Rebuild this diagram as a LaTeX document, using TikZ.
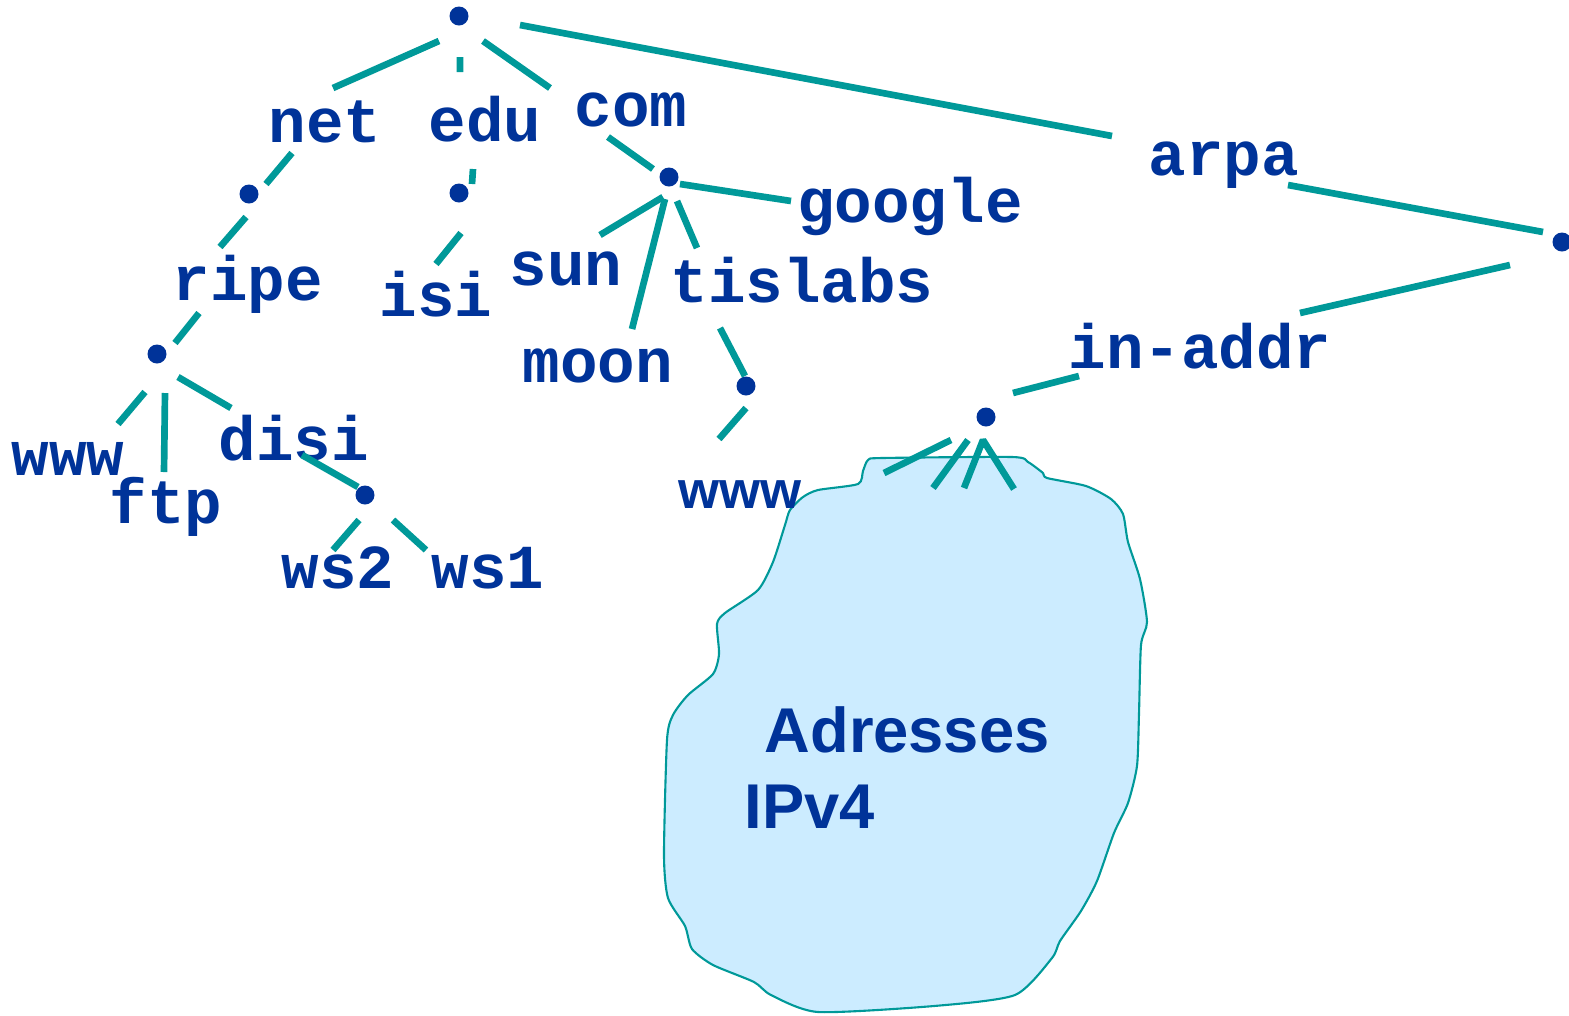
\documentclass[tikz,border=0pt]{standalone}
\usepackage{fontspec}
\setmainfont{Liberation Sans}
\setsansfont{Liberation Sans}
\setmonofont{Liberation Mono}
\usepackage{tikz}
\usetikzlibrary{calc,positioning}
\definecolor{dnsblue}{RGB}{0,51,153}
\definecolor{dnsteal}{RGB}{0,153,153}
\definecolor{ipfill}{RGB}{204,236,255}
\tikzset{%
	dot/.style  = {circle, fill=dnsblue, inner sep=0pt, minimum size=1.9mm}, % tree node
	dom/.style  = {anchor=base, inner sep=0pt, text=dnsblue, font=\ttfamily\bfseries\fontsize{17.8}{20}\selectfont}, % domain name
	host/.style = {anchor=base, inner sep=0pt, text=dnsblue, font=\sffamily\bfseries\fontsize{15}{17}\selectfont},
	big/.style  = {anchor=base west, inner sep=0pt, text=dnsblue, font=\sffamily\bfseries\fontsize{18}{21}\selectfont},
	link/.style = {draw=dnsteal, line width=1.9pt}, % connector
	zone/.style = {draw=dnsteal, line width=0.6pt, fill=ipfill}, % address space
}

\begin{document}
\begin{tikzpicture}
	\useasboundingbox (0,0) rectangle (15.69,-10.15);
	
	% address space
	\draw[zone] plot[smooth cycle, tension=0.4] coordinates {(8.18,-4.90) (8.58,-4.84) (8.63,-4.71) (8.68,-4.60) (8.82,-4.58) (10.12,-4.57) (10.28,-4.62) (10.43,-4.73) (10.47,-4.78) (10.86,-4.86) (11.11,-4.99) (11.23,-5.14) (11.28,-5.42) (11.40,-5.79) (11.47,-6.22) (11.41,-6.45) (11.39,-7.14) (11.37,-7.66) (11.28,-8.03) (11.14,-8.33) (10.97,-8.81) (10.81,-9.11) (10.60,-9.41) (10.52,-9.58) (10.15,-9.95) (9.34,-10.06) (8.18,-10.12) (7.71,-9.95) (7.54,-9.82) (7.13,-9.65) (6.92,-9.49) (6.85,-9.26) (6.68,-8.98) (6.64,-8.55) (6.67,-7.40) (6.73,-7.15) (6.88,-6.95) (7.13,-6.74) (7.19,-6.54) (7.17,-6.24) (7.25,-6.13) (7.58,-5.90) (7.73,-5.62) (7.85,-5.25) (7.90,-5.10) (8.03,-4.97)};
	\node[big] (adr) at (7.64,-7.52) {Adresses};
	\node[big] (ipv4) at (7.44,-8.28) {IPv4};
	
	% tree nodes
	\node[dot] (root) at (4.59,-0.16) {};
	\node[dot] (netdot) at (2.49,-1.94) {};
	\node[dot] (edudot) at (4.59,-1.93) {};
	\node[dot] (comdot) at (6.69,-1.77) {};
	\node[dot] (ripedot) at (1.57,-3.54) {};
	\node[dot] (disidot) at (3.65,-4.95) {};
	\node[dot] (tisdot) at (7.46,-3.86) {};
	\node[dot] (arpadot) at (15.62,-2.42) {};
	\node[dot] (inaddrdot) at (9.86,-4.17) {};
	
	% domain names
	\node[dom] (net) at (3.25,-1.42) {net};
	\node[dom] (edu) at (4.85,-1.41) {edu};
	\node[dom] (com) at (6.31,-1.26) {com};
	\node[dom] (arpa) at (12.24,-1.75) {arpa};
	\node[dom] (ripe) at (2.48,-3.00) {ripe};
	\node[dom] (isi) at (4.36,-3.16) {isi};
	\node[dom] (sun) at (5.66,-2.85) {sun};
	\node[dom] (google) at (9.10,-2.22) {google};
	\node[dom] (tislabs) at (8.02,-3.02) {tislabs};
	\node[dom] (moon) at (5.98,-3.82) {moon};
	\node[dom] (inaddr) at (12.00,-3.68) {in-addr};
	\node[dom] (wwwa) at (0.68,-4.75) {www};
	\node[dom] (ftp) at (1.66,-5.23) {ftp};
	\node[dom] (disi) at (2.94,-4.60) {disi};
	\node[dom] (wstwo) at (3.38,-5.88) {ws2};
	\node[dom] (wsone) at (4.88,-5.88) {ws1};
	\node[host] (wwwb) at (7.40,-5.08) {www};
	
	% connectors
	\draw[link] ($(root)+(-0.20,-0.25)$) -- ($(net.base)+(0.08,0.54)$);
	\draw[link] ($(root)+(0.01,-0.41)$) -- ($(edu.base)+(-0.25,0.69)$);
	\draw[link] ($(root)+(0.24,-0.25)$) -- ($(com.base)+(-0.81,0.38)$);
	\draw[link] ($(root)+(0.61,-0.09)$) -- ($(arpa.base)+(-1.12,0.39)$);
	\draw[link] ($(net.base)+(-0.33,-0.11)$) -- ($(netdot)+(0.17,0.10)$);
	\draw[link] ($(netdot)+(-0.03,-0.23)$) -- ($(ripe.base)+(-0.28,0.53)$);
	\draw[link] ($(edu.base)+(-0.12,-0.28)$) -- ($(edudot)+(0.13,0.09)$);
	\draw[link] ($(edudot)+(0.02,-0.40)$) -- ($(isi.base)+(0,0.52)$);
	\draw[link] ($(com.base)+(-0.23,-0.11)$) -- ($(comdot)+(-0.16,0.08)$);
	\draw[link] ($(comdot)+(0.11,-0.07)$) -- ($(google.base)+(-1.19,0.21)$);
	\draw[link] ($(comdot)+(-0.06,-0.20)$) -- ($(sun.base)+(0.34,0.50)$);
	\draw[link] ($(comdot)+(-0.04,-0.22)$) -- ($(moon.base)+(0.34,0.53)$);
	\draw[link] ($(comdot)+(0.08,-0.24)$) -- ($(tislabs.base)+(-1.05,0.54)$);
	\draw[link] ($(ripe.base)+(-0.49,-0.13)$) -- ($(ripedot)+(0.18,0.11)$);
	\draw[link] ($(ripedot)+(-0.12,-0.38)$) -- ($(wwwa.base)+(0.50,0.51)$);
	\draw[link] ($(ripedot)+(0.08,-0.39)$) -- ($(ftp.base)+(-0.02,0.51)$);
	\draw[link] ($(ripedot)+(0.21,-0.23)$) -- ($(disi.base)+(-0.63,0.52)$);
	\draw[link] ($(disi.base)+(0.08,0.05)$) -- ($(disidot)+(-0.07,0.08)$);
	\draw[link] ($(disidot)+(-0.06,-0.25)$) -- ($(wstwo.base)+(-0.05,0.38)$);
	\draw[link] ($(disidot)+(0.28,-0.25)$) -- ($(wsone.base)+(-0.62,0.38)$);
	\draw[link] ($(tislabs.base)+(-0.82,-0.26)$) -- ($(tisdot)+(-0.01,0.10)$);
	\draw[link] ($(tisdot)+(0,-0.22)$) -- ($(wwwb.base)+(-0.21,0.69)$);
	\draw[link] ($(arpa.base)+(0.64,-0.10)$) -- ($(arpadot)+(-0.19,0.10)$);
	\draw[link] ($(arpadot)+(-0.52,-0.23)$) -- ($(inaddr.base)+(1.00,0.55)$);
	\draw[link] ($(inaddr.base)+(-1.21,-0.08)$) -- ($(inaddrdot)+(0.27,0.24)$);
	
	% into the address space
	\draw[link] ($(inaddrdot)+(-0.35,-0.23)$) -- ++(-0.67,-0.33);
	\draw[link] ($(inaddrdot)+(-0.18,-0.23)$) -- ++(-0.35,-0.48);
	\draw[link, line join=bevel] ($(inaddrdot)+(-0.22,-0.71)$) -- ($(inaddrdot)+(-0.03,-0.23)$) -- ($(inaddrdot)+(0.28,-0.72)$);
	
\end{tikzpicture}
\end{document}
